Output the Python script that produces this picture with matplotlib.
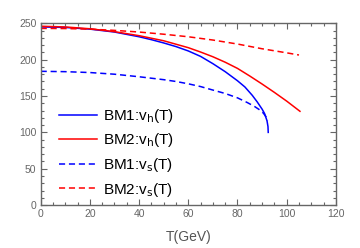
import numpy as np
import matplotlib
matplotlib.use("Agg")
import matplotlib.pyplot as plt
from matplotlib.ticker import MultipleLocator

plt.rcParams['font.family'] = ['Liberation Sans', 'DejaVu Sans']
plt.rcParams['mathtext.default'] = 'regular'

# BM1: v_h(T)
t_bm1_h = [0, 10, 20, 30, 40, 45, 50, 55, 60, 65, 70, 75, 80, 83, 86, 88, 90, 91, 92, 92.4, 92.5]
v_bm1_h = [245, 244.3, 242, 238, 231.5, 227.5, 223, 218, 212, 204.5, 194.5, 183.5, 171, 162.5, 151, 142, 132, 126, 116, 108, 100]

# BM2: v_h(T)
t_bm2_h = [0, 10, 20, 30, 40, 50, 60, 65, 70, 75, 80, 85, 90, 95, 100, 105.4]
v_bm2_h = [246, 245, 242.5, 238.5, 233, 226, 216.5, 210.5, 204, 196.5, 188, 177.5, 166.5, 155, 143, 129]

# BM1: v_s(T)
t_bm1_s = [0, 10, 20, 30, 40, 50, 55, 60, 65, 70, 75, 80, 84, 87, 89, 90.5, 91.6, 92.2]
v_bm1_s = [184, 183.5, 182.3, 180, 176.5, 172.5, 170, 166.8, 163, 158.2, 153.5, 147.5, 141, 135.5, 131, 126.5, 121.5, 116]

# BM2: v_s(T)
t_bm2_s = [0, 10, 20, 30, 40, 50, 60, 70, 80, 90, 100, 105]
v_bm2_s = [243, 242.8, 242, 240.3, 238, 235, 231.5, 227, 221.5, 215, 209.4, 206.4]

fig = plt.figure(figsize=(3.6, 2.48), dpi=100)
ax = fig.add_axes([0.113, 0.173, 0.82, 0.733])

lw = 1.1
ax.plot(t_bm1_h, v_bm1_h, color="#0000ff", lw=lw, label=r"BM1:v$_\mathrm{h}$(T)")
ax.plot(t_bm2_h, v_bm2_h, color="#ff0000", lw=lw, label=r"BM2:v$_\mathrm{h}$(T)")
ax.plot(t_bm1_s, v_bm1_s, color="#0000ff", lw=lw, dashes=(4, 2.5), label=r"BM1:v$_\mathrm{s}$(T)")
ax.plot(t_bm2_s, v_bm2_s, color="#ff0000", lw=lw, dashes=(4, 2.5), label=r"BM2:v$_\mathrm{s}$(T)")

ax.set_xlim(0, 120)
ax.set_ylim(0, 250)
ax.xaxis.set_major_locator(MultipleLocator(20))
ax.xaxis.set_minor_locator(MultipleLocator(5))
ax.yaxis.set_major_locator(MultipleLocator(50))
ax.yaxis.set_minor_locator(MultipleLocator(10))

frame = "#666666"
for s in ax.spines.values():
    s.set_color(frame)
    s.set_linewidth(1.0)
ax.tick_params(which="both", direction="in", top=True, right=True, color=frame,
               labelsize=7.5, labelcolor="#666666", width=0.8)
ax.tick_params(which="major", length=4, pad=3)
ax.tick_params(which="minor", length=2.2)

ax.set_xlabel("T(GeV)", fontsize=10, color="#555555", labelpad=8)

ax.legend(loc="lower left", bbox_to_anchor=(0.04, 0.002), frameon=False, fontsize=11,
          handlelength=2.5, handletextpad=0.4, labelspacing=0.43, borderaxespad=0)

fig.savefig("out.png", dpi=100)
